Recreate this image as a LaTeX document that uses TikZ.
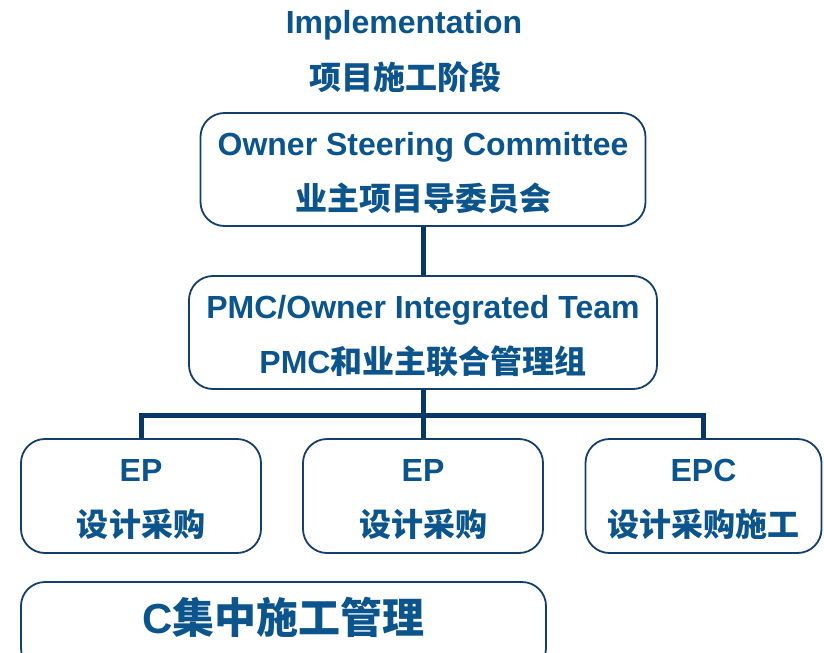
\documentclass[tikz,border=0pt]{standalone}
\usepackage{fontspec}
\setmainfont{Liberation Sans}
\newfontfamily\cjk{Noto Sans CJK SC}
\newcommand{\zh}[1]{{\cjk\bfseries #1}}
% taller first line, pushes box text down a little
\newcommand{\firstline}{\rule{0pt}{29.5bp}}

\definecolor{txtblue}{RGB}{12,84,140}
\definecolor{boxline}{RGB}{20,62,108}
\definecolor{linknavy}{RGB}{8,54,102}

\tikzset{
  orgbox/.style={draw=boxline, line width=1.8bp, rounded corners=24bp,
    align=center, text=txtblue, inner sep=0pt,
    font=\bfseries\fontsize{32bp}{55bp}\selectfont},
  headtext/.style={text=txtblue, inner sep=0pt,
    font=\bfseries\fontsize{32bp}{38bp}\selectfont},
  link/.style={draw=linknavy, line width=5bp},
}

\begin{document}
\begin{tikzpicture}[x=1bp,y=-1bp]
  \useasboundingbox (0,0) rectangle (824,653);
  \clip (0,0) rectangle (824,653);

  % Heading
  \node[headtext] (title) at (404,25) {Implementation};
  \node[headtext] (titlezh) at (405,77) {\zh{项目施工阶段}};

  % Organisation boxes
  \node[orgbox, minimum width=445bp, minimum height=113bp] (steer) at (423,169.5)
    {\firstline Owner Steering Committee\\\zh{业主项目导委员会}};
  \node[orgbox, minimum width=468bp, minimum height=113bp] (pmc) at (423,332.5)
    {\firstline PMC/Owner Integrated Team\\PMC\zh{和业主联合管理组}};
  \node[orgbox, minimum width=240bp, minimum height=114bp] (ep1) at (141,496)
    {\firstline EP\\\zh{设计采购}};
  \node[orgbox, minimum width=240bp, minimum height=114bp] (ep2) at (423,496)
    {\firstline EP\\\zh{设计采购}};
  \node[orgbox, minimum width=236bp, minimum height=114bp] (epc) at (703.5,496)
    {\firstline EPC\\\zh{设计采购施工}};

  % Construction management box, runs off the bottom edge
  \node[orgbox, minimum width=525bp, minimum height=90bp] (cm) at (283.5,627) {};
  \node[headtext, font=\bfseries\fontsize{42bp}{48bp}\selectfont] (cmtext) at (283.5,617)
    {C\zh{集中施工管理}};

  % Reporting lines
  \coordinate (bus) at (423,415);
  \draw[link] (steer.south) -- (pmc.north);
  \draw[link] (pmc.south) -- (pmc.south |- bus);
  \draw[link] (ep1.north) |- (bus) -| (epc.north);
  \draw[link] (ep2.north) -- (ep2.north |- bus);
\end{tikzpicture}
\end{document}
